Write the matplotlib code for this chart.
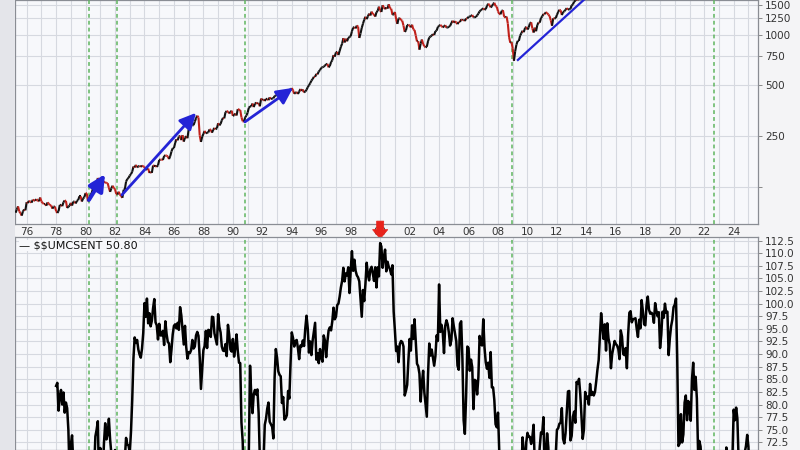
import matplotlib
matplotlib.use("Agg")
import matplotlib.pyplot as plt
from matplotlib.collections import LineCollection
from matplotlib.patches import Polygon
from matplotlib.ticker import FixedLocator, NullFormatter
import numpy as np

# S&P 500 monthly closes, starting April 1975
spx_start = 1975 + 3 / 12.0
spx_close = [
    87.3, 91.2, 95.2, 88.8, 86.9, 83.9, 89.0, 91.2, 90.2,
    100.9, 99.7, 102.8, 101.6, 100.2, 104.3, 103.4, 102.9, 105.2, 102.9, 102.1, 107.5,
    102.0, 99.8, 98.4, 98.4, 96.1, 100.5, 98.9, 96.8, 96.5, 92.3, 94.8, 95.1,
    89.3, 87.0, 89.2, 97.0, 97.2, 95.5, 100.7, 103.3, 102.5, 93.2, 94.7, 96.1,
    99.9, 96.3, 101.6, 101.8, 99.1, 102.9, 103.8, 109.3, 109.3, 101.8, 106.2, 107.9,
    114.2, 113.7, 102.1, 106.3, 111.2, 114.2, 121.7, 122.4, 125.5, 127.5, 140.5, 135.8,
    129.6, 131.3, 136.0, 132.8, 132.6, 131.2, 130.9, 122.8, 116.2, 121.9, 126.4, 122.6,
    120.4, 113.1, 112.0, 116.4, 111.9, 109.6, 107.1, 119.5, 120.4, 133.7, 138.5, 140.6,
    145.3, 148.1, 153.0, 164.4, 162.4, 168.1, 162.6, 164.4, 166.1, 163.6, 166.4, 164.9,
    163.4, 157.1, 159.2, 160.1, 150.6, 153.2, 150.7, 166.7, 166.1, 166.1, 163.6, 167.2,
    179.6, 181.2, 180.7, 179.8, 189.6, 191.9, 190.9, 188.6, 182.1, 189.8, 202.2, 211.3,
    211.8, 226.9, 238.9, 235.5, 247.4, 250.8, 236.1, 252.9, 231.3, 244.0, 249.2, 242.2,
    274.1, 284.2, 291.7, 288.4, 290.1, 304.0, 318.7, 329.8, 321.8, 251.8, 230.3, 247.1,
    257.1, 267.8, 258.9, 261.3, 262.2, 273.5, 272.0, 261.5, 271.9, 279.0, 273.7, 277.7,
    297.5, 288.9, 294.9, 309.6, 320.5, 318.0, 346.1, 351.5, 349.2, 340.4, 346.0, 353.4,
    329.1, 331.9, 339.9, 330.8, 361.2, 358.0, 356.2, 322.6, 306.1, 304.0, 322.2, 330.2,
    343.9, 367.1, 375.2, 375.3, 389.8, 371.2, 387.8, 395.4, 387.9, 392.5, 375.2, 417.1,
    408.8, 412.7, 403.7, 415.0, 415.4, 408.1, 424.2, 414.0, 417.8, 418.7, 431.4, 435.7,
    438.8, 443.4, 451.7, 440.2, 450.2, 450.5, 448.1, 463.6, 458.9, 467.8, 461.8, 466.5,
    481.6, 467.1, 445.8, 450.9, 456.5, 444.3, 458.3, 475.5, 462.7, 472.4, 453.7, 459.3,
    470.4, 487.4, 500.7, 514.7, 533.4, 544.8, 562.1, 561.9, 584.4, 581.5, 605.4, 615.9,
    636.0, 640.4, 645.5, 654.2, 669.1, 670.6, 640.0, 652.0, 687.3, 705.3, 757.0, 740.7,
    786.2, 790.8, 757.1, 801.3, 848.3, 885.1, 954.3, 899.5, 947.3, 914.6, 955.4, 970.4,
    980.3, 1049.3, 1101.8, 1111.8, 1090.8, 1133.8, 1120.7, 957.3, 1017.0, 1098.7, 1163.6, 1229.2,
    1279.6, 1238.3, 1286.4, 1335.2, 1301.8, 1372.7, 1328.7, 1320.4, 1282.7, 1362.9, 1389.0, 1469.3,
    1394.5, 1366.4, 1498.6, 1452.4, 1420.6, 1454.6, 1430.8, 1517.7, 1436.5, 1429.4, 1315.2, 1320.3,
    1366.0, 1239.9, 1160.3, 1249.5, 1256.0, 1224.4, 1211.2, 1133.6, 1040.9, 1059.8, 1139.5, 1148.1,
    1130.2, 1106.7, 1147.4, 1076.9, 1067.1, 989.8, 911.6, 916.1, 815.3, 885.8, 936.3, 879.8,
    855.7, 841.2, 848.2, 916.9, 963.6, 974.5, 990.3, 1008.0, 996.0, 1050.7, 1058.2, 1111.9,
    1131.1, 1144.9, 1126.2, 1107.3, 1120.7, 1140.8, 1101.7, 1104.2, 1114.6, 1130.2, 1173.8, 1211.9,
    1181.3, 1203.6, 1180.6, 1156.9, 1191.5, 1191.3, 1234.2, 1220.3, 1228.8, 1207.0, 1249.5, 1248.3,
    1280.1, 1280.7, 1294.9, 1310.6, 1270.1, 1270.2, 1276.7, 1303.8, 1335.9, 1377.9, 1400.6, 1418.3,
    1438.2, 1406.8, 1420.9, 1482.4, 1530.6, 1503.4, 1455.3, 1474.0, 1526.8, 1549.4, 1481.1, 1468.4,
    1378.6, 1330.6, 1322.7, 1385.6, 1400.4, 1280.0, 1267.4, 1282.8, 1166.4, 968.8, 896.2, 903.3,
    825.9, 700.0, 797.9, 872.8, 919.1, 919.3, 987.5, 1020.6, 1057.1, 1036.2, 1095.6, 1115.1,
    1073.9, 1104.5, 1169.4, 1186.7, 1089.4, 1030.7, 1101.6, 1049.3, 1141.2, 1183.3, 1180.6, 1257.6,
    1286.1, 1327.2, 1325.8, 1363.6, 1345.2, 1320.6, 1292.3, 1218.9, 1131.4, 1253.3, 1247.0, 1257.6,
    1312.4, 1365.7, 1408.5, 1397.9, 1310.3, 1362.2, 1379.3, 1406.6, 1440.7, 1412.2, 1416.2, 1426.2,
    1498.1, 1514.7, 1569.2, 1597.6, 1630.7, 1606.3, 1685.7, 1633.0, 1681.6, 1756.5, 1805.8, 1848.4,
]

# University of Michigan consumer sentiment, monthly from January 1978
sent_start = 1978.0
sentiment = [
    83.7, 84.3, 78.8, 81.6, 82.9, 80.0, 82.4, 78.4, 80.4, 79.3, 75.0, 66.1,
    72.1, 73.9, 68.4, 66.0, 68.1, 65.8, 60.4, 64.5, 66.7, 62.1, 63.3, 61.0,
    67.0, 66.9, 56.5, 52.7, 51.7, 58.7, 62.3, 67.3, 73.7, 75.0, 76.7, 64.5,
    71.4, 66.9, 66.5, 72.4, 76.3, 73.1, 74.1, 77.2, 73.1, 70.3, 62.5, 64.3,
    71.0, 66.5, 62.0, 65.5, 67.5, 65.7, 65.4, 65.4, 69.3, 73.4, 72.1, 71.9,
    70.4, 74.6, 80.8, 89.1, 93.3, 92.2, 92.8, 90.9, 89.9, 89.3, 91.1, 94.2,
    100.1, 97.4, 101.0, 96.1, 98.1, 95.5, 96.6, 99.1, 100.9, 96.3, 95.7, 92.9,
    96.0, 93.7, 93.7, 94.6, 91.8, 96.5, 94.0, 92.4, 92.1, 88.4, 90.9, 93.9,
    95.6, 95.9, 95.1, 96.2, 94.8, 99.3, 97.7, 94.9, 91.9, 95.6, 91.4, 89.1,
    90.4, 90.2, 90.8, 92.8, 91.1, 91.5, 93.7, 94.4, 93.6, 89.3, 83.1, 86.8,
    90.8, 91.6, 94.6, 91.2, 94.8, 94.7, 93.4, 97.4, 97.3, 94.1, 93.0, 91.9,
    97.9, 95.4, 94.3, 91.5, 90.7, 90.6, 92.0, 89.6, 95.8, 93.9, 90.9, 90.5,
    93.0, 89.5, 91.3, 93.9, 90.6, 88.3, 88.2, 76.4, 72.8, 63.9, 66.0, 65.5,
    66.8, 70.4, 87.7, 81.8, 78.3, 82.1, 82.9, 82.0, 83.0, 78.3, 69.1, 68.2,
    67.5, 68.8, 76.0, 77.2, 79.2, 80.4, 76.6, 76.1, 75.6, 73.3, 85.3, 91.0,
    89.3, 86.6, 85.9, 85.6, 80.3, 81.5, 77.0, 77.3, 77.9, 82.7, 81.2, 88.2,
    94.3, 93.2, 91.5, 92.6, 92.8, 91.2, 89.0, 91.7, 91.5, 92.7, 91.6, 95.1,
    97.6, 95.1, 90.3, 92.5, 89.8, 92.7, 94.4, 96.2, 88.9, 90.2, 88.2, 91.0,
    89.3, 88.5, 93.7, 92.7, 89.4, 92.4, 94.7, 95.3, 94.7, 96.5, 99.2, 96.9,
    97.4, 99.7, 100.0, 101.4, 103.2, 104.5, 107.1, 104.4, 106.0, 105.6, 107.2, 102.1,
    106.6, 110.4, 106.5, 108.7, 106.5, 105.6, 105.2, 104.4, 100.9, 97.4, 102.7, 100.5,
    103.9, 108.1, 105.7, 104.6, 106.8, 107.3, 106.0, 104.5, 107.2, 103.2, 107.2, 105.4,
    112.0, 111.3, 107.1, 109.2, 110.7, 106.4, 108.3, 107.3, 106.8, 105.8, 107.6, 98.4,
    94.7, 90.6, 91.5, 88.4, 92.0, 92.6, 92.4, 91.5, 81.8, 82.7, 83.9, 88.8,
    93.0, 90.7, 95.7, 93.0, 96.9, 92.4, 88.1, 87.6, 86.1, 80.6, 84.2, 86.7,
    82.4, 79.9, 77.6, 86.0, 92.1, 89.7, 90.9, 89.3, 87.7, 89.6, 93.7, 92.6,
    103.8, 94.4, 95.8, 94.2, 90.2, 95.6, 96.7, 95.9, 94.2, 91.7, 92.8, 97.1,
    95.5, 94.1, 92.6, 87.7, 86.9, 96.0, 96.5, 89.1, 76.9, 74.2, 81.6, 91.5,
    91.2, 86.7, 88.9, 87.4, 79.1, 84.9, 84.7, 82.0, 85.4, 93.6, 92.1, 91.7,
    96.9, 91.3, 88.4, 87.1, 88.3, 85.3, 90.4, 83.4, 83.4, 80.9, 76.1, 75.5,
    78.4, 70.8, 69.5, 62.6, 59.8, 56.4, 61.2, 63.0, 70.3, 57.6, 55.3, 60.1,
    61.2, 56.3, 57.3, 65.1, 68.7, 70.8, 66.0, 65.7, 73.5, 70.6, 67.4, 72.5,
    74.4, 73.6, 73.6, 72.2, 73.6, 76.0, 67.8, 68.9, 68.2, 67.7, 71.6, 74.5,
    74.2, 77.5, 67.5, 69.8, 74.3, 71.5, 63.7, 55.8, 59.5, 60.8, 63.7, 69.9,
    75.0, 75.3, 76.2, 76.4, 79.3, 73.2, 72.3, 74.3, 78.3, 82.6, 82.7, 72.9,
    73.8, 77.6, 78.6, 76.4, 84.5, 84.1, 85.1, 82.1, 77.5, 73.2, 75.1, 82.5,
    81.2, 81.6, 80.0, 84.1, 81.9, 82.5, 81.8, 82.5, 84.6, 86.9, 88.8, 93.6,
    98.1, 95.4, 93.0, 95.9, 90.7, 96.1, 93.1, 91.9, 87.2, 90.0, 91.3, 92.6,
    92.0, 91.7, 91.0, 89.0, 94.7, 93.5, 90.0, 89.8, 91.2, 87.2, 93.8, 98.2,
    98.5, 96.3, 96.9, 97.0, 97.1, 95.0, 93.4, 96.8, 95.1, 100.7, 98.5, 95.9,
    95.7, 99.7, 101.4, 98.8, 98.0, 98.2, 97.9, 96.2, 100.1, 98.6, 97.5, 98.3,
    91.2, 93.8, 98.4, 97.2, 100.0, 98.2, 98.4, 89.8, 93.2, 95.5, 96.8, 99.3,
    99.8, 101.0, 89.1, 71.8, 72.3, 78.1, 72.5, 74.1, 80.4, 81.8, 76.9, 80.7,
    79.0, 76.8, 84.9, 88.3, 82.9, 85.5, 81.2, 70.3, 72.8, 71.7, 67.4, 70.6,
    67.2, 62.8, 59.4, 65.2, 58.4, 50.0, 51.5, 58.2, 58.6, 59.9, 56.8, 59.7,
    64.9, 67.0, 62.0, 63.5, 59.2, 64.2, 71.5, 69.4, 67.9, 63.8, 61.3, 69.7,
    79.0, 76.9, 79.4, 77.2, 69.1, 68.2, 66.4, 67.9, 70.1, 70.5, 71.8, 74.0,
    71.7, 64.7, 57.0, 52.2, 52.2, 60.7, 61.7, 58.2, 55.1, 53.6, 50.8,
]

# green dashed marker dates (fractional years)
marker_years = [1980.25, 1982.15, 1990.8, 2008.95, 2022.65]

# blue trend arrows: (start year, start value, end year, end value, head size, width)
trend_arrows = [
    (1980.23, 104, 1981.32, 148, 14, 2.8),
    (1982.47, 111.5, 1987.50, 343, 14, 2.0),
    (1990.82, 303, 1994.08, 483, 14, 2.0),
]
trend_line = (2009.35, 708, 2014.3, 1760)
peak_year = 2000.0

price_grid = [125, 250, 500, 750, 1000, 1250, 1500]
sent_ticks = [72.5 + 2.5 * i for i in range(17)]
years = list(range(1976, 2026))

BG = "#f7f8fb"
GRID = "#d6d9e0"
GREEN = "#5fb55f"
BLUE = "#2424d6"

fig = plt.figure(figsize=(8, 4.5), dpi=100)
fig.patch.set_facecolor("#f4f4f6")
fig.patches.append(plt.Rectangle((0, 0), 15 / 800, 1, transform=fig.transFigure,
                                 facecolor="#e4e5ea", edgecolor="none", zorder=0))

x_left, x_right = 1975.21, 2025.65
ax1 = fig.add_axes([15 / 800, 226 / 450, 743 / 800, 224 / 450])
ax2 = fig.add_axes([15 / 800, 0, 743 / 800, 213 / 450])

for ax in (ax1, ax2):
    ax.set_facecolor(BG)
    ax.set_xlim(x_left, x_right)
    ax.set_xticks(years)
    ax.grid(True, axis="x", color=GRID, lw=0.8)
    ax.tick_params(axis="x", length=0)
    for s in ax.spines.values():
        s.set_color("#8a8d94")
        s.set_linewidth(0.9)
    ax.yaxis.tick_right()
    ax.tick_params(axis="y", length=3, width=0.6, color="#777", labelsize=7.5,
                   labelcolor="#333", pad=2)
    for y in marker_years:
        ax.axvline(y, color=GREEN, lw=1.1, ls=(0, (2.5, 2)), zorder=3)

# top panel: price
ax1.set_yscale("log")
ax1.set_ylim(74.8, 1610)
ax1.yaxis.set_major_locator(FixedLocator(price_grid))
ax1.yaxis.set_minor_locator(FixedLocator([]))
ax1.set_yticklabels(["" if v < 250 else str(v) for v in price_grid])
ax1.yaxis.set_minor_formatter(NullFormatter())
ax1.grid(True, axis="y", color=GRID, lw=0.8)
ax1.set_xticklabels([("%02d" % (y % 100)) if y % 2 == 0 else "" for y in years])
ax1.tick_params(axis="x", labelsize=7.5, labelcolor="#333", pad=2)

px = spx_start + np.arange(len(spx_close)) / 12.0
py = np.array(spx_close)
segs = [[(px[i - 1], py[i - 1]), (px[i], py[i])] for i in range(1, len(py))]
cols = ["#111111" if py[i] >= py[i - 1] else "#c0201a" for i in range(1, len(py))]
ax1.add_collection(LineCollection(segs, colors=cols, linewidths=1.5, zorder=4))

for x0, y0, x1, y1, hs, w in trend_arrows:
    ax1.annotate("", xy=(x1, y1), xytext=(x0, y0),
                 arrowprops=dict(arrowstyle="-|>,head_width=0.35,head_length=0.7",
                                 color=BLUE, lw=w, mutation_scale=hs,
                                 shrinkA=0, shrinkB=0), zorder=5)
ax1.plot([trend_line[0], trend_line[2]], [trend_line[1], trend_line[3]],
         color=BLUE, lw=1.6, zorder=5)

# red block arrow at the 2000 peak, in the date row
sw, hw = 0.24, 0.52
arrow_pts = [(peak_year - sw, 0.013), (peak_year + sw, 0.013), (peak_year + sw, -0.025),
             (peak_year + hw, -0.025), (peak_year, -0.066), (peak_year - hw, -0.025),
             (peak_year - sw, -0.025)]
ax1.add_patch(Polygon(arrow_pts, closed=True, transform=ax1.get_xaxis_transform(),
                      facecolor="#e8231b", edgecolor="#e8231b", lw=0.5,
                      clip_on=False, zorder=10))

# bottom panel: sentiment
ax2.set_ylim(71.0, 113.2)
ax2.set_yticks(sent_ticks)
ax2.set_yticklabels(["%.1f" % v for v in sent_ticks])
ax2.grid(True, axis="y", color=GRID, lw=0.8)
ax2.set_xticklabels([])
sx = sent_start + np.arange(len(sentiment)) / 12.0
ax2.plot(sx, sentiment, color="black", lw=1.8, zorder=4)
ax2.text(0.006, 0.985, r"— \$\$UMCSENT 50.80", transform=ax2.transAxes,
         va="top", ha="left", fontsize=8, color="#111",
         bbox=dict(facecolor=BG, edgecolor="none", pad=0.5), zorder=6)

fig.savefig("out.png", dpi=100, facecolor=fig.get_facecolor())
